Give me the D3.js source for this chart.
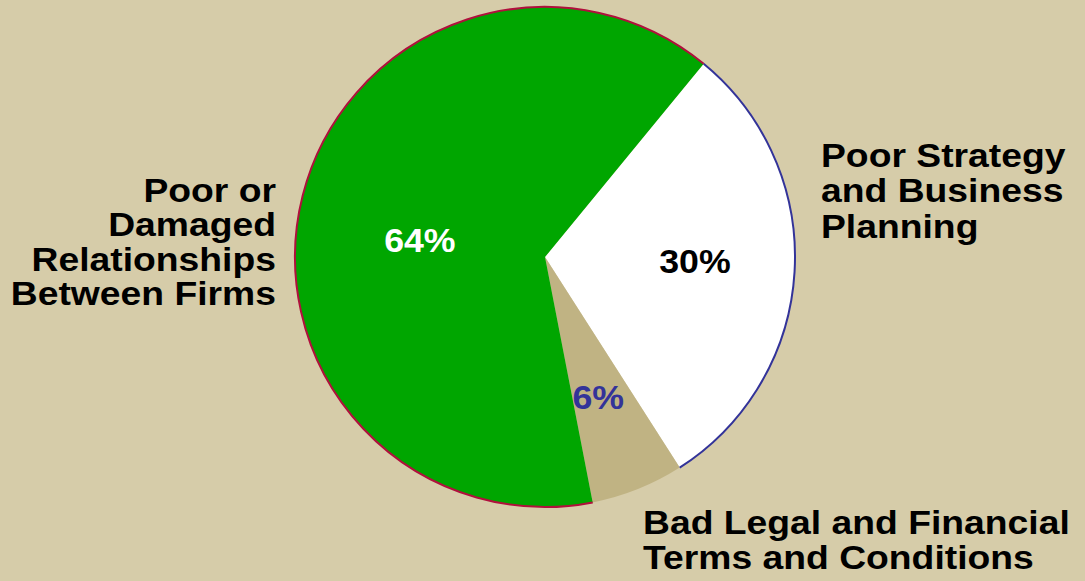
<!DOCTYPE html>
<html><head><meta charset="utf-8">
<script src="https://cdn.jsdelivr.net/npm/d3@7"></script>
<style>html,body{margin:0;padding:0;background:#d6cca9;overflow:hidden}</style>
</head><body>
<svg id="c" width="1085" height="581"></svg>
<script>
const categories = ["Poor Strategy and Business Planning", "Bad Legal and Financial Terms and Conditions", "Poor or Damaged Relationships Between Firms"];
const values = [30, 6, 64];
const pctLabels = ["30%", "6%", "64%"];
const labelLines = [["Poor Strategy", "and Business", "Planning"], ["Bad Legal and Financial", "Terms and Conditions"], ["Poor or", "Damaged", "Relationships", "Between Firms"]];
const fills = ["#ffffff", "#c0b383", "#00a600"];
const edgeColors = ["#333399", null, "#b0103c"];
const pctColors = ["#000000", "#333399", "#ffffff"];

const svg = d3.select("#c");
const cx = 545, cy = 257, R = 250;
const g = svg.append("g").attr("transform", `translate(${cx},${cy})`);
const deg = Math.PI / 180;
const start = 39.4 * deg;
const pie = d3.pie().sort(null).value(d => d).startAngle(start).endAngle(start + 2 * Math.PI);
const arcs = pie(values);
const arc = d3.arc().innerRadius(0).outerRadius(R);
g.selectAll("path.s").data(arcs).join("path").attr("class", "s")
  .attr("d", arc).attr("fill", (d, i) => fills[i]);
const edge = d3.arc().innerRadius(R).outerRadius(R);
g.selectAll("path.e").data(arcs.filter((d, i) => edgeColors[i])).join("path").attr("class", "e")
  .attr("d", d => edge(d)).attr("fill", "none")
  .attr("stroke", d => edgeColors[d.index]).attr("stroke-width", 2);

const font = "'Liberation Sans', Arial, sans-serif";
const pctR = [0.6, 0.6, 0.505];
const pctAngleShift = [-2, 1, -6.5];
arcs.forEach((d, i) => {
  const r = R * pctR[i];
  const a = (d.startAngle + d.endAngle) / 2 + pctAngleShift[i] * deg;
  const x = r * Math.sin(a), y = -r * Math.cos(a);
  g.append("text").attr("transform", `translate(${x},${y}) scale(1.05,1)`)
    .attr("text-anchor", "middle").attr("dy", "0.36em")
    .attr("font-family", font).attr("font-weight", "bold").attr("font-size", 34)
    .attr("fill", pctColors[i]).text(pctLabels[i]);
});

const labelPos = [{x: 821, y: 167, a: "start", lh: 35.5}, {x: 643, y: 534, a: "start", lh: 35}, {x: 276, y: 202, a: "end", lh: 34.3}];
labelLines.forEach((lines, i) => {
  const p = labelPos[i];
  const t = svg.append("text").attr("transform", `translate(${p.x},${p.y}) scale(1.13,1)`)
    .attr("font-family", font).attr("font-weight", "bold").attr("font-size", 33)
    .attr("fill", "#000").attr("text-anchor", p.a);
  lines.forEach((l, j) => t.append("tspan").attr("x", 0).attr("y", j * p.lh).text(l));
});
</script>
</body></html>
